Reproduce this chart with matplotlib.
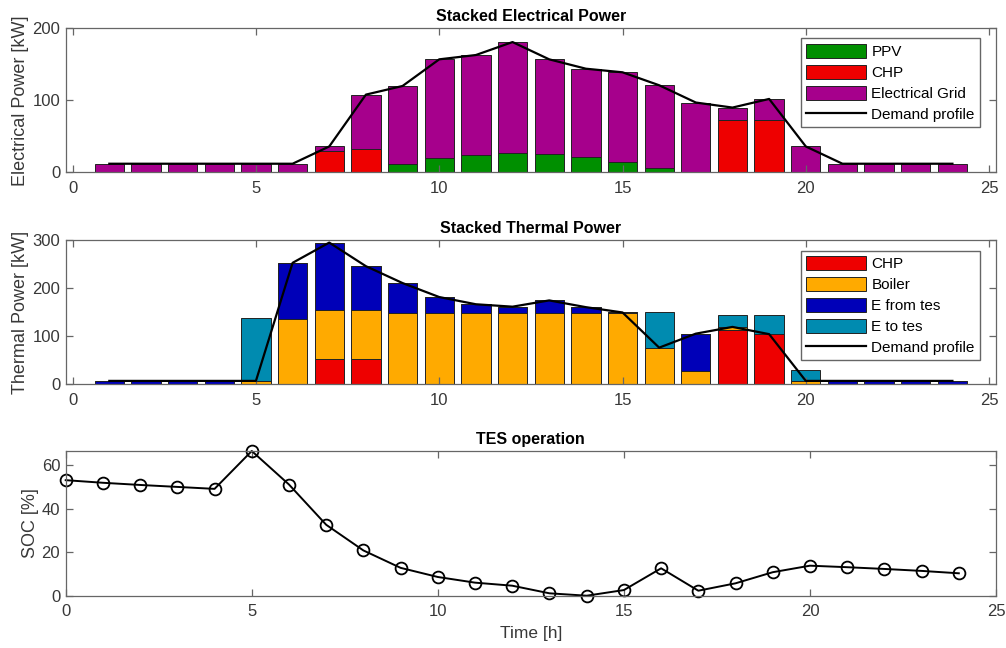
import numpy as np
import matplotlib
matplotlib.use('Agg')
import matplotlib.pyplot as plt
from matplotlib.patches import Patch
from matplotlib.lines import Line2D

plt.rcParams['font.family'] = ['Liberation Sans', 'DejaVu Sans']

## Hourly dispatch results (hours 1..24)
hours = np.arange(1, 25)

# electrical side [kW]
ppv = [0, 0, 0, 0, 0, 0, 0, 1, 12, 20, 24, 27, 26, 22, 15, 6, 0, 0, 0, 0, 0, 0, 0, 0]
chp_el = [0, 0, 0, 0, 0, 0, 29, 31, 0, 0, 0, 0, 0, 0, 0, 0, 0, 73, 73, 0, 0, 0, 0, 0]
grid = [12, 12, 12, 12, 12, 12, 7, 76, 108, 137, 139, 154, 131, 122, 124, 115, 97, 17, 29, 36, 12, 12, 12, 12]
demand_el = [12, 12, 12, 12, 12, 12, 36, 108, 120, 157, 163, 181, 157, 144, 139, 121, 97, 90, 102, 36, 12, 12, 12, 12]

# thermal side [kW]
chp_th = [0, 0, 0, 0, 0, 0, 52, 52, 0, 0, 0, 0, 0, 0, 0, 0, 0, 112, 104, 0, 0, 0, 0, 0]
boiler = [0, 0, 0, 0, 7, 136, 102, 102, 148, 148, 148, 148, 148, 148, 147, 76, 28, 7, 0, 7, 0, 0, 0, 0]
e_from_tes = [7, 7, 7, 7, 0, 116, 140, 91, 62, 33, 18, 13, 26, 12, 2, 0, 77, 0, 0, 0, 7, 7, 7, 7]
e_to_tes = [0, 0, 0, 0, 130, 0, 0, 0, 0, 0, 0, 0, 0, 0, 0, 73, 0, 24, 39, 23, 0, 0, 0, 0]
demand_th = [7, 7, 7, 7, 7, 252, 294, 245, 210, 181, 166, 161, 174, 160, 149, 76, 105, 119, 104, 7, 7, 7, 7, 7]

# storage state of charge (hours 0..24) [%]
soc_hours = np.arange(0, 25)
soc = [53.1, 51.9, 50.9, 50.0, 49.1, 66.5, 51.1, 32.6, 20.8, 12.8, 8.6, 6.0, 4.6, 1.1, 0.0,
       2.6, 12.6, 2.3, 5.7, 10.8, 13.8, 13.1, 12.3, 11.4, 10.3]

## colours
c_ppv = '#008f00'
c_chp = '#ee0000'
c_grid = '#a6008c'
c_boiler = '#ffaa00'
c_from = '#0000b8'
c_to = '#008bb0'
gray_ax = '#666666'
gray_txt = '#383838'


def style_axes(ax):
    for sp in ax.spines.values():
        sp.set_color(gray_ax)
        sp.set_linewidth(0.9)
    ax.tick_params(direction='in', length=5, width=0.9, color=gray_ax,
                   labelcolor=gray_txt, labelsize=12, top=True, right=True)
    ax.tick_params(axis='x', pad=6)
    ax.tick_params(axis='y', pad=4)
    ax.set_xticks([0, 5, 10, 15, 20, 25])


def stacked(ax, layers, colors):
    bottom = np.zeros(len(hours))
    for vals, col in zip(layers, colors):
        vals = np.asarray(vals, dtype=float)
        ax.bar(hours, vals, 0.8, bottom=bottom, color=col, edgecolor='#222222', linewidth=0.7)
        bottom += vals


fig = plt.figure(figsize=(10.06, 6.48), dpi=100)
L, W = 0.0653, 0.9248
ax1 = fig.add_axes([L, 0.734, W, 0.2222])
ax2 = fig.add_axes([L, 0.407, W, 0.2231])
ax3 = fig.add_axes([L, 0.0807, W, 0.2233])

leg_kw = dict(loc='upper right', borderaxespad=0, fancybox=False, edgecolor=gray_ax,
              framealpha=1, fontsize=11, handlelength=3.9, handleheight=1.05,
              handletextpad=0.35, labelspacing=0.37, borderpad=0.35)

# Electrical
stacked(ax1, [ppv, chp_el, grid], [c_ppv, c_chp, c_grid])
ax1.plot(hours, demand_el, color='black', linewidth=1.6)
ax1.set_xlim(-0.19, 25.19)
ax1.set_ylim(0, 200)
ax1.set_yticks([0, 100, 200])
style_axes(ax1)
ax1.set_title('Stacked Electrical Power', fontsize=11.5, fontweight='bold', pad=5)
ax1.set_ylabel('Electrical Power [kW]', fontsize=13, color=gray_txt, labelpad=2)
h1 = [Patch(facecolor=c_ppv, edgecolor='#222222', linewidth=0.7),
      Patch(facecolor=c_chp, edgecolor='#222222', linewidth=0.7),
      Patch(facecolor=c_grid, edgecolor='#222222', linewidth=0.7),
      Line2D([], [], color='black', linewidth=1.6)]
ax1.legend(h1, ['PPV', 'CHP', 'Electrical Grid', 'Demand profile'],
           bbox_to_anchor=(0.9828, 0.9306), **leg_kw)

# Thermal
stacked(ax2, [chp_th, boiler, e_from_tes, e_to_tes], [c_chp, c_boiler, c_from, c_to])
ax2.plot(hours, demand_th, color='black', linewidth=1.6)
ax2.set_xlim(-0.19, 25.19)
ax2.set_ylim(0, 300)
ax2.set_yticks([0, 100, 200, 300])
style_axes(ax2)
ax2.set_title('Stacked Thermal Power', fontsize=11.5, fontweight='bold', pad=5)
ax2.set_ylabel('Thermal Power [kW]', fontsize=13, color=gray_txt, labelpad=2)
h2 = [Patch(facecolor=c_chp, edgecolor='#222222', linewidth=0.7),
      Patch(facecolor=c_boiler, edgecolor='#222222', linewidth=0.7),
      Patch(facecolor=c_from, edgecolor='#222222', linewidth=0.7),
      Patch(facecolor=c_to, edgecolor='#222222', linewidth=0.7),
      Line2D([], [], color='black', linewidth=1.6)]
ax2.legend(h2, ['CHP', 'Boiler', 'E from tes', 'E to tes', 'Demand profile'],
           bbox_to_anchor=(0.9828, 0.924), **leg_kw)

# TES state of charge
ax3.plot(soc_hours, soc, color='black', linewidth=1.4, marker='o', markersize=8.5,
         markerfacecolor='none', markeredgecolor='black', markeredgewidth=1.3, clip_on=False)
ax3.set_xlim(0, 25)
ax3.set_ylim(0, max(soc))
ax3.set_yticks([0, 20, 40, 60])
style_axes(ax3)
ax3.set_title('TES operation', fontsize=11.5, fontweight='bold', pad=5)
ax3.set_ylabel('SOC [%]', fontsize=13, color=gray_txt, labelpad=2)
ax3.set_xlabel('Time [h]', fontsize=12.5, color=gray_txt, labelpad=5)

fig.savefig('out.png', dpi=100)
